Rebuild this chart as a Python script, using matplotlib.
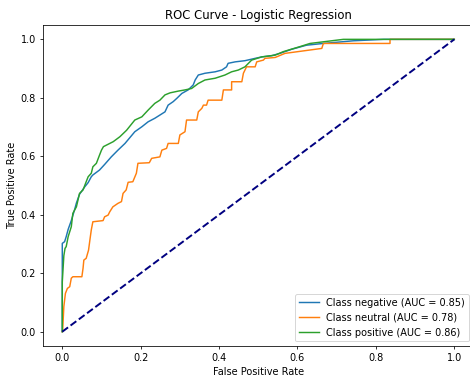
import matplotlib
matplotlib.use("Agg")
import matplotlib.pyplot as plt

class_names = ["negative", "neutral", "positive"]
auc_values = [0.85, 0.78, 0.86]

fpr_negative = [0, 0, 0.006, 0.010, 0.015, 0.023, 0.032, 0.036, 0.044, 0.057, 0.066, 0.070,
                0.074, 0.078, 0.087, 0.095, 0.108, 0.125, 0.142, 0.160, 0.185, 0.203, 0.219,
                0.236, 0.249, 0.262, 0.270, 0.283, 0.292, 0.305, 0.321, 0.334, 0.339, 0.347,
                0.364, 0.390, 0.407, 0.419, 0.423, 0.441, 0.466, 0.492, 0.509, 0.534, 0.555,
                0.585, 0.623, 0.666, 0.742, 0.820, 1.0]
tpr_negative = [0, 0.302, 0.308, 0.325, 0.350, 0.380, 0.420, 0.440, 0.470, 0.495, 0.510, 0.520,
                0.530, 0.536, 0.545, 0.553, 0.572, 0.598, 0.621, 0.644, 0.684, 0.701, 0.718,
                0.730, 0.741, 0.752, 0.775, 0.787, 0.798, 0.815, 0.827, 0.844, 0.861, 0.878,
                0.884, 0.889, 0.895, 0.906, 0.918, 0.923, 0.927, 0.935, 0.940, 0.944, 0.952,
                0.966, 0.980, 0.986, 0.995, 1.0, 1.0]

fpr_neutral = [0, 0.001, 0.004, 0.008, 0.013, 0.019, 0.023, 0.027, 0.050, 0.053, 0.055, 0.061,
               0.067, 0.071, 0.074, 0.078, 0.104, 0.108, 0.117, 0.121, 0.129, 0.142, 0.151,
               0.155, 0.163, 0.168, 0.180, 0.189, 0.193, 0.222, 0.228, 0.249, 0.254, 0.266,
               0.270, 0.296, 0.300, 0.313, 0.317, 0.343, 0.347, 0.356, 0.360, 0.368, 0.372,
               0.407, 0.411, 0.432, 0.432, 0.458, 0.462, 0.470, 0.492, 0.496, 0.513, 0.517,
               0.543, 0.568, 0.662, 0.666, 0.836, 0.836, 1.0]
tpr_neutral = [0, 0.006, 0.086, 0.131, 0.148, 0.154, 0.183, 0.188, 0.188, 0.217, 0.245, 0.251,
               0.279, 0.319, 0.348, 0.376, 0.380, 0.393, 0.399, 0.410, 0.427, 0.439, 0.445,
               0.473, 0.485, 0.511, 0.513, 0.542, 0.576, 0.578, 0.593, 0.598, 0.621, 0.627,
               0.644, 0.644, 0.673, 0.684, 0.724, 0.724, 0.752, 0.764, 0.775, 0.775, 0.792,
               0.792, 0.827, 0.827, 0.855, 0.855, 0.884, 0.906, 0.906, 0.923, 0.929, 0.935,
               0.938, 0.952, 0.969, 0.986, 0.986, 1.0, 1.0]

fpr_positive = [0, 0, 0.004, 0.007, 0.010, 0.015, 0.023, 0.027, 0.036, 0.044, 0.053, 0.061,
                0.066, 0.074, 0.078, 0.087, 0.095, 0.100, 0.105, 0.130, 0.147, 0.164, 0.185,
                0.203, 0.219, 0.236, 0.249, 0.262, 0.275, 0.296, 0.313, 0.330, 0.347, 0.364,
                0.390, 0.415, 0.432, 0.449, 0.466, 0.483, 0.509, 0.543, 0.564, 0.606, 0.632,
                0.717, 1.0]
tpr_positive = [0, 0.17, 0.26, 0.285, 0.291, 0.325, 0.359, 0.405, 0.427, 0.473, 0.485, 0.513,
                0.530, 0.542, 0.564, 0.576, 0.604, 0.621, 0.633, 0.650, 0.667, 0.689, 0.724,
                0.735, 0.758, 0.781, 0.792, 0.810, 0.817, 0.823, 0.827, 0.832, 0.849, 0.861,
                0.867, 0.878, 0.889, 0.895, 0.906, 0.929, 0.940, 0.946, 0.958, 0.975, 0.986,
                1.0, 1.0]

curves = [(fpr_negative, tpr_negative), (fpr_neutral, tpr_neutral), (fpr_positive, tpr_positive)]
colors = ["#1f77b4", "#ff7f0e", "#2ca02c"]

fig = plt.figure(figsize=(470 / 70, 377 / 70), dpi=70)
ax = fig.add_axes([0.0908, 0.0814, 0.9175, 0.853])

for name, auc, (f, t), c in zip(class_names, auc_values, curves, colors):
    ax.plot(f, t, color=c, lw=1.5, label=f"Class {name} (AUC = {auc:.2f})")

ax.plot([0, 1], [0, 1], color="navy", lw=2, linestyle="--")
ax.set_xlim(-0.05, 1.05)
ax.set_ylim(-0.05, 1.05)
ax.set_xlabel("False Positive Rate")
ax.set_ylabel("True Positive Rate")
ax.set_title("ROC Curve - Logistic Regression")
ax.legend(loc="lower right")

fig.savefig("out.png", dpi=70)
